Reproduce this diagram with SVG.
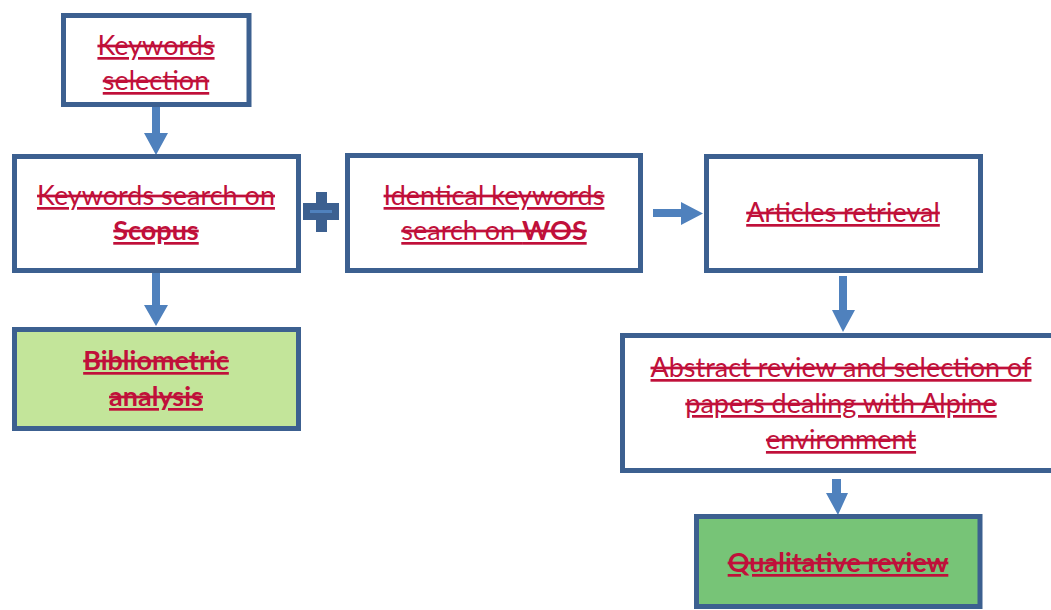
<svg xmlns="http://www.w3.org/2000/svg" width="1051" height="610" viewBox="0 0 1051 610">
<style>
.box{fill:#ffffff;stroke:#3C6090;stroke-width:5}
.t{font-family:Lato,"Liberation Sans",sans-serif;font-size:27px;fill:#C0103A;text-anchor:middle;text-decoration:underline line-through}
.b{font-weight:bold}
.arr{fill:#4F81BD}
</style>
<rect width="1051" height="610" fill="#ffffff"/>
<g id="connectors">
<polygon class="arr" points="152,106 160,106 160,133 168,133 156,155 144,133 152,133"/>
<polygon class="arr" points="152,273 160,273 160,305 168,305 156,326 144,305 152,305"/>
<polygon class="arr" points="653,209 681,209 681,202 703,213.5 681,225 681,217 653,217"/>
<polygon class="arr" points="839,276 847,276 847,310 855,310 843,332 832,310 839,310"/>
<polygon class="arr" points="832,479 841,479 841,493 848,493 838,515 826,493 832,493"/>
<polygon id="plus" points="319.5,195.5 323.5,195.5 323.5,206.5 335.5,206.5 335.5,216.5 323.5,216.5 323.5,228.5 319.5,228.5 319.5,216.5 306.5,216.5 306.5,206.5 319.5,206.5" fill="#4F81BD" stroke="#3C6090" stroke-width="7" stroke-linejoin="miter"/>
</g>
<g id="n1">
<rect class="box" x="63.5" y="15.5" width="185.5" height="89"/>
<text class="t" x="156" y="55">Keywords</text>
<text class="t" x="156" y="90">selection</text>
</g>
<g id="n2">
<rect class="box" x="14.5" y="156.5" width="284" height="114"/>
<text class="t" x="156" y="205">Keywords search on</text>
<text class="t b" x="156" y="240">Scopus</text>
</g>
<g id="n3">
<rect class="box" x="347.5" y="155.5" width="293" height="115"/>
<text class="t" x="494" y="205">Identical keywords</text>
<text class="t" x="494" y="240">search on <tspan class="b">WOS</tspan></text>
</g>
<g id="n4">
<rect class="box" x="706.5" y="156.5" width="274" height="114"/>
<text class="t" x="843" y="222">Articles retrieval</text>
</g>
<g id="n5">
<rect class="box" x="622.5" y="335.5" width="440" height="135"/>
<text class="t" x="841" y="377">Abstract review and selection of</text>
<text class="t" x="841" y="413">papers dealing with Alpine</text>
<text class="t" x="841" y="449">environment</text>
</g>
<g id="n6">
<rect class="box" x="696.5" y="516.5" width="283.5" height="90" style="fill:#77C477"/>
<text class="t b" x="838" y="572">Qualitative review</text>
</g>
<g id="n7">
<rect class="box" x="14.5" y="329.5" width="284" height="99" style="fill:#C3E59A"/>
<text class="t b" x="156" y="370">Bibliometric</text>
<text class="t b" x="156" y="406">analysis</text>
</g>
</svg>
